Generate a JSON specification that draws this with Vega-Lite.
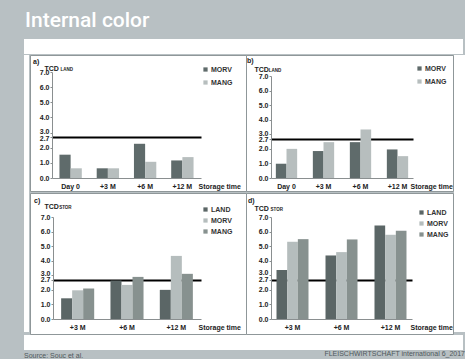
{
  "$schema": "https://vega.github.io/schema/vega-lite/v6.json",
  "background": "#b8c0c3",
  "padding": {"left": 24, "top": 10, "right": 0, "bottom": 0},
  "config": {
    "font": "Liberation Sans",
    "view": {"stroke": null},
    "concat": {"spacing": 0},
    "axis": {
      "labelFont": "Liberation Sans",
      "labelColor": "#222222",
      "labelFontSize": 7,
      "labelFontWeight": "bold",
      "titleFont": "Liberation Sans",
      "titleFontSize": 7,
      "titleFontWeight": "bold",
      "titleColor": "#222222",
      "domainColor": "#8a8f90",
      "tickColor": "#8a8f90",
      "zindex": 1
    },
    "legend": {
      "labelFont": "Liberation Sans",
      "labelFontSize": 7,
      "labelFontWeight": "bold",
      "labelColor": "#333333",
      "symbolType": "square",
      "symbolSize": 18,
      "symbolStrokeWidth": 0,
      "labelOffset": 2
    }
  },
  "datasets": {
    "a": [
      {"time": "Day 0", "variety": "MORV", "value": 1.54},
      {"time": "Day 0", "variety": "MANG", "value": 0.64},
      {"time": "+3 M", "variety": "MORV", "value": 0.64},
      {"time": "+3 M", "variety": "MANG", "value": 0.64},
      {"time": "+6 M", "variety": "MORV", "value": 2.26},
      {"time": "+6 M", "variety": "MANG", "value": 1.07},
      {"time": "+12 M", "variety": "MORV", "value": 1.16},
      {"time": "+12 M", "variety": "MANG", "value": 1.38}
    ],
    "b": [
      {"time": "Day 0", "variety": "MORV", "value": 0.98},
      {"time": "Day 0", "variety": "MANG", "value": 2.0},
      {"time": "+3 M", "variety": "MORV", "value": 1.85},
      {"time": "+3 M", "variety": "MANG", "value": 2.46},
      {"time": "+6 M", "variety": "MORV", "value": 2.46},
      {"time": "+6 M", "variety": "MANG", "value": 3.33},
      {"time": "+12 M", "variety": "MORV", "value": 1.96},
      {"time": "+12 M", "variety": "MANG", "value": 1.5}
    ],
    "c": [
      {"time": "+3 M", "variety": "LAND", "value": 1.42},
      {"time": "+3 M", "variety": "MORV", "value": 1.97},
      {"time": "+3 M", "variety": "MANG", "value": 2.09},
      {"time": "+6 M", "variety": "LAND", "value": 2.64},
      {"time": "+6 M", "variety": "MORV", "value": 2.34},
      {"time": "+6 M", "variety": "MANG", "value": 2.89},
      {"time": "+12 M", "variety": "LAND", "value": 2.0},
      {"time": "+12 M", "variety": "MORV", "value": 4.33},
      {"time": "+12 M", "variety": "MANG", "value": 3.1}
    ],
    "d": [
      {"time": "+3 M", "variety": "LAND", "value": 3.37},
      {"time": "+3 M", "variety": "MORV", "value": 5.3},
      {"time": "+3 M", "variety": "MANG", "value": 5.48},
      {"time": "+6 M", "variety": "LAND", "value": 4.36},
      {"time": "+6 M", "variety": "MORV", "value": 4.59},
      {"time": "+6 M", "variety": "MANG", "value": 5.46},
      {"time": "+12 M", "variety": "LAND", "value": 6.42},
      {"time": "+12 M", "variety": "MORV", "value": 5.78},
      {"time": "+12 M", "variety": "MANG", "value": 6.06}
    ]
  },
  "title": {
    "text": "Internal color",
    "anchor": "start",
    "frame": "bounds",
    "font": "Roboto",
    "fontSize": 21,
    "fontWeight": 500,
    "color": "white",
    "offset": 8,
    "dx": 1
  },
  "vconcat": [
    {
      "title": {"text": "FLEISCHWIRTSCHAFT international 6_2017", "orient": "bottom", "anchor": "end", "frame": "bounds", "fontSize": 7, "fontWeight": "normal", "color": "#4f585b", "offset": -9},
      "spacing": 0,
      "vconcat": [
        {
          "title": {"text": "Source: Souc et al.", "orient": "bottom", "anchor": "start", "frame": "bounds", "fontSize": 7, "fontWeight": "normal", "color": "#4f585b", "offset": 2},
          "spacing": 0,
          "vconcat": [
            {"data": {"values": []}, "mark": {"type": "point", "opacity": 0}, "encoding": {}, "width": 439, "height": 15, "view": {"fill": "white", "stroke": null}},
            {
              "spacing": 0,
              "hconcat": [
                {"data": {"values": []}, "mark": {"type": "point", "opacity": 0}, "encoding": {}, "width": 5, "height": 277, "view": {"fill": "white", "stroke": null}},
                {
                  "spacing": 0,
                  "vconcat": [
                    {
                      "spacing": 0,
                      "bounds": "flush",
                      "resolve": {"scale": {"color": "independent", "x": "independent", "y": "independent", "xOffset": "independent"}, "legend": {"color": "independent"}},
                      "hconcat": [
                        {
                          "width": 216, "height": 136,
                          "view": {"fill": "white", "stroke": "#8f9799", "strokeWidth": 1},
                          "title": {"text": "a)", "anchor": "start", "frame": "group", "offset": -10, "dx": 3, "fontSize": 7, "fontWeight": "bold", "color": "#222222"},
                          "resolve": {"axis": {"x": "independent", "y": "independent"}},
                          "layer": [
                            {
                              "data": {"name": "a"},
                              "mark": {"type": "bar"},
                              "encoding": {
                                "x": {"field": "time", "type": "nominal", "sort": ["Day 0", "+3 M", "+6 M", "+12 M"],
                                  "scale": {"range": [22, 171], "paddingInner": 0.4, "paddingOuter": 0.2},
                                  "axis": {"orient": "bottom", "offset": -13, "labelAngle": 0, "ticks": false, "labelPadding": 4, "title": "Storage time", "titleX": 168, "titleY": 8, "titleAlign": "left", "titleBaseline": "middle"}},
                                "xOffset": {"field": "variety", "sort": ["MORV", "MANG"], "scale": {"paddingInner": 0, "paddingOuter": 0}},
                                "y": {"field": "value", "type": "quantitative",
                                  "scale": {"domain": [0, 7], "range": [123, 17], "nice": false},
                                  "axis": {"orient": "left", "offset": -22, "values": [0, 1, 2, 2.7, 3, 4, 5, 6, 7], "format": ".1f", "labelOverlap": false, "tickSize": 2, "labelPadding": 1,
                                    "labelOffset": {"condition": [{"test": "datum.value === 2.7", "value": 1}, {"test": "datum.value === 3", "value": -1}], "value": 0},
                                    "grid": true, "gridColor": "#000000", "gridWidth": 2,
                                    "gridOpacity": {"condition": {"test": "datum.value === 2.7", "value": 1}, "value": 0},
                                    "title": "TCD", "titleAngle": 0, "titleAlign": "left", "titleBaseline": "middle", "titleX": -8, "titleY": 13}},
                                "color": {"field": "variety", "type": "nominal", "scale": {"domain": ["MORV", "MANG"], "range": ["#5f6b6b", "#b7bebe"]},
                                  "legend": {"title": null, "orient": "none", "legendX": 172, "legendY": 11, "rowPadding": 5}}
                              }
                            },
                            {
                              "data": {"values": [{"sub": "LAND"}]},
                              "mark": {"type": "text", "align": "left", "baseline": "middle", "fontSize": 4.5, "fontWeight": "bold", "color": "#222222", "dx": 1},
                              "encoding": {"text": {"field": "sub"}, "x": {"datum": "Day 0", "bandPosition": 0, "axis": null}, "y": {"datum": 7.1, "axis": null}}
                            }
                          ]
                        },
                        {
                          "width": 207, "height": 136,
                          "view": {"fill": "white", "stroke": "#8f9799", "strokeWidth": 1},
                          "title": {"text": "b)", "anchor": "start", "frame": "group", "offset": -9, "dx": 1, "fontSize": 7, "fontWeight": "bold", "color": "#222222"},
                          "resolve": {"axis": {"x": "independent", "y": "independent"}},
                          "layer": [
                            {
                              "data": {"name": "b"},
                              "mark": {"type": "bar"},
                              "encoding": {
                                "x": {"field": "time", "type": "nominal", "sort": ["Day 0", "+3 M", "+6 M", "+12 M"],
                                  "scale": {"range": [25, 167], "paddingInner": 0.424, "paddingOuter": 0.131},
                                  "axis": {"orient": "bottom", "offset": -13, "labelAngle": 0, "ticks": false, "labelPadding": 4, "title": "Storage time", "titleX": 164, "titleY": 8, "titleAlign": "left", "titleBaseline": "middle"}},
                                "xOffset": {"field": "variety", "sort": ["MORV", "MANG"], "scale": {"paddingInner": 0, "paddingOuter": 0}},
                                "y": {"field": "value", "type": "quantitative",
                                  "scale": {"domain": [0, 7], "range": [123, 21], "nice": false},
                                  "axis": {"orient": "left", "offset": -25, "values": [0, 1, 2, 2.7, 3, 4, 5, 6, 7], "format": ".1f", "labelOverlap": false, "tickSize": 2, "labelPadding": 1,
                                    "labelOffset": {"condition": [{"test": "datum.value === 2.7", "value": 1}, {"test": "datum.value === 3", "value": -1}], "value": 0},
                                    "grid": true, "gridColor": "#000000", "gridWidth": 2,
                                    "gridOpacity": {"condition": {"test": "datum.value === 2.7", "value": 1}, "value": 0},
                                    "title": "TCD", "titleAngle": 0, "titleAlign": "left", "titleBaseline": "middle", "titleX": -17, "titleY": 14}},
                                "color": {"field": "variety", "type": "nominal", "scale": {"domain": ["MORV", "MANG"], "range": ["#5f6b6b", "#b7bebe"]},
                                  "legend": {"title": null, "orient": "none", "legendX": 170, "legendY": 10, "rowPadding": 5}}
                              }
                            },
                            {
                              "data": {"values": [{"sub": "LAND"}]},
                              "mark": {"type": "text", "align": "left", "baseline": "middle", "fontSize": 4.5, "fontWeight": "bold", "color": "#222222", "dx": -7},
                              "encoding": {"text": {"field": "sub"}, "x": {"datum": "Day 0", "bandPosition": 0, "axis": null}, "y": {"datum": 7.35, "axis": null}}
                            }
                          ]
                        }
                      ]
                    },
                    {
                      "spacing": 0,
                      "bounds": "flush",
                      "resolve": {"scale": {"color": "independent", "x": "independent", "y": "independent", "xOffset": "independent"}, "legend": {"color": "independent"}},
                      "hconcat": [
                        {
                          "width": 216, "height": 141,
                          "view": {"fill": "white", "stroke": "#8f9799", "strokeWidth": 1},
                          "title": {"text": "c)", "anchor": "start", "frame": "group", "offset": -11, "dx": 4, "fontSize": 7, "fontWeight": "bold", "color": "#222222"},
                          "resolve": {"axis": {"x": "independent", "y": "independent"}},
                          "layer": [
                            {
                              "data": {"name": "c"},
                              "mark": {"type": "bar"},
                              "encoding": {
                                "x": {"field": "time", "type": "nominal", "sort": ["+3 M", "+6 M", "+12 M"],
                                  "scale": {"range": [23, 171], "paddingInner": 0.33, "paddingOuter": 0.165},
                                  "axis": {"orient": "bottom", "offset": -15, "labelAngle": 0, "ticks": false, "labelPadding": 4, "title": "Storage time", "titleX": 168, "titleY": 8, "titleAlign": "left", "titleBaseline": "middle"}},
                                "xOffset": {"field": "variety", "sort": ["LAND", "MORV", "MANG"], "scale": {"paddingInner": 0, "paddingOuter": 0}},
                                "y": {"field": "value", "type": "quantitative",
                                  "scale": {"domain": [0, 7], "range": [126, 24], "nice": false},
                                  "axis": {"orient": "left", "offset": -23, "values": [0, 1, 2, 2.7, 3, 4, 5, 6, 7], "format": ".1f", "labelOverlap": false, "tickSize": 2, "labelPadding": 1,
                                    "labelOffset": {"condition": [{"test": "datum.value === 3", "value": -2}], "value": 0},
                                    "grid": true, "gridColor": "#000000", "gridWidth": 2,
                                    "gridOpacity": {"condition": {"test": "datum.value === 2.7", "value": 1}, "value": 0},
                                    "title": "TCD", "titleAngle": 0, "titleAlign": "left", "titleBaseline": "middle", "titleX": -9, "titleY": 13}},
                                "color": {"field": "variety", "type": "nominal", "scale": {"domain": ["LAND", "MORV", "MANG"], "range": ["#5b6666", "#b5bdbd", "#87918f"]},
                                  "legend": {"title": null, "orient": "none", "legendX": 172, "legendY": 13, "rowPadding": 3}}
                              }
                            },
                            {
                              "data": {"values": [{"sub": "STOR"}]},
                              "mark": {"type": "text", "align": "left", "baseline": "middle", "fontSize": 4.5, "fontWeight": "bold", "color": "#222222", "dx": -2},
                              "encoding": {"text": {"field": "sub"}, "x": {"datum": "+3 M", "bandPosition": 0, "axis": null}, "y": {"datum": 7.6, "axis": null}}
                            }
                          ]
                        },
                        {
                          "width": 207, "height": 141,
                          "view": {"fill": "white", "stroke": "#8f9799", "strokeWidth": 1},
                          "title": {"text": "d)", "anchor": "start", "frame": "group", "offset": -11, "dx": 2, "fontSize": 7, "fontWeight": "bold", "color": "#222222"},
                          "resolve": {"axis": {"x": "independent", "y": "independent"}},
                          "layer": [
                            {
                              "data": {"name": "d"},
                              "mark": {"type": "bar"},
                              "encoding": {
                                "x": {"field": "time", "type": "nominal", "sort": ["+3 M", "+6 M", "+12 M"],
                                  "scale": {"range": [25, 166], "paddingInner": 0.347, "paddingOuter": 0.1125},
                                  "axis": {"orient": "bottom", "offset": -15, "labelAngle": 0, "ticks": false, "labelPadding": 4, "title": "Storage time", "titleX": 164, "titleY": 8, "titleAlign": "left", "titleBaseline": "middle"}},
                                "xOffset": {"field": "variety", "sort": ["LAND", "MORV", "MANG"], "scale": {"paddingInner": 0, "paddingOuter": 0}},
                                "y": {"field": "value", "type": "quantitative",
                                  "scale": {"domain": [0, 7], "range": [126, 24], "nice": false},
                                  "axis": {"orient": "left", "offset": -25, "values": [0, 1, 2, 2.7, 3, 4, 5, 6, 7], "format": ".1f", "labelOverlap": false, "tickSize": 2, "labelPadding": 1,
                                    "labelOffset": {"condition": [{"test": "datum.value === 3", "value": -3}], "value": 0},
                                    "grid": true, "gridColor": "#000000", "gridWidth": 2,
                                    "gridOpacity": {"condition": {"test": "datum.value === 2.7", "value": 1}, "value": 0},
                                    "title": "TCD", "titleAngle": 0, "titleAlign": "left", "titleBaseline": "middle", "titleX": -17, "titleY": 15}},
                                "color": {"field": "variety", "type": "nominal", "scale": {"domain": ["LAND", "MORV", "MANG"], "range": ["#5b6666", "#b5bdbd", "#87918f"]},
                                  "legend": {"title": null, "orient": "none", "legendX": 172, "legendY": 16, "rowPadding": 3}}
                              }
                            },
                            {
                              "data": {"values": [{"sub": "STOR"}]},
                              "mark": {"type": "text", "align": "left", "baseline": "middle", "fontSize": 4.5, "fontWeight": "bold", "color": "#222222", "dx": -6},
                              "encoding": {"text": {"field": "sub"}, "x": {"datum": "+3 M", "bandPosition": 0, "axis": null}, "y": {"datum": 7.45, "axis": null}}
                            }
                          ]
                        }
                      ]
                    }
                  ]
                },
                {"data": {"values": []}, "mark": {"type": "point", "opacity": 0}, "encoding": {}, "width": 11, "height": 277, "view": {"fill": "white", "stroke": null}}
              ]
            },
            {"data": {"values": []}, "mark": {"type": "point", "opacity": 0}, "encoding": {}, "width": 439, "height": 15, "view": {"fill": "white", "stroke": null}}
          ]
        }
      ]
    }
  ]
}
